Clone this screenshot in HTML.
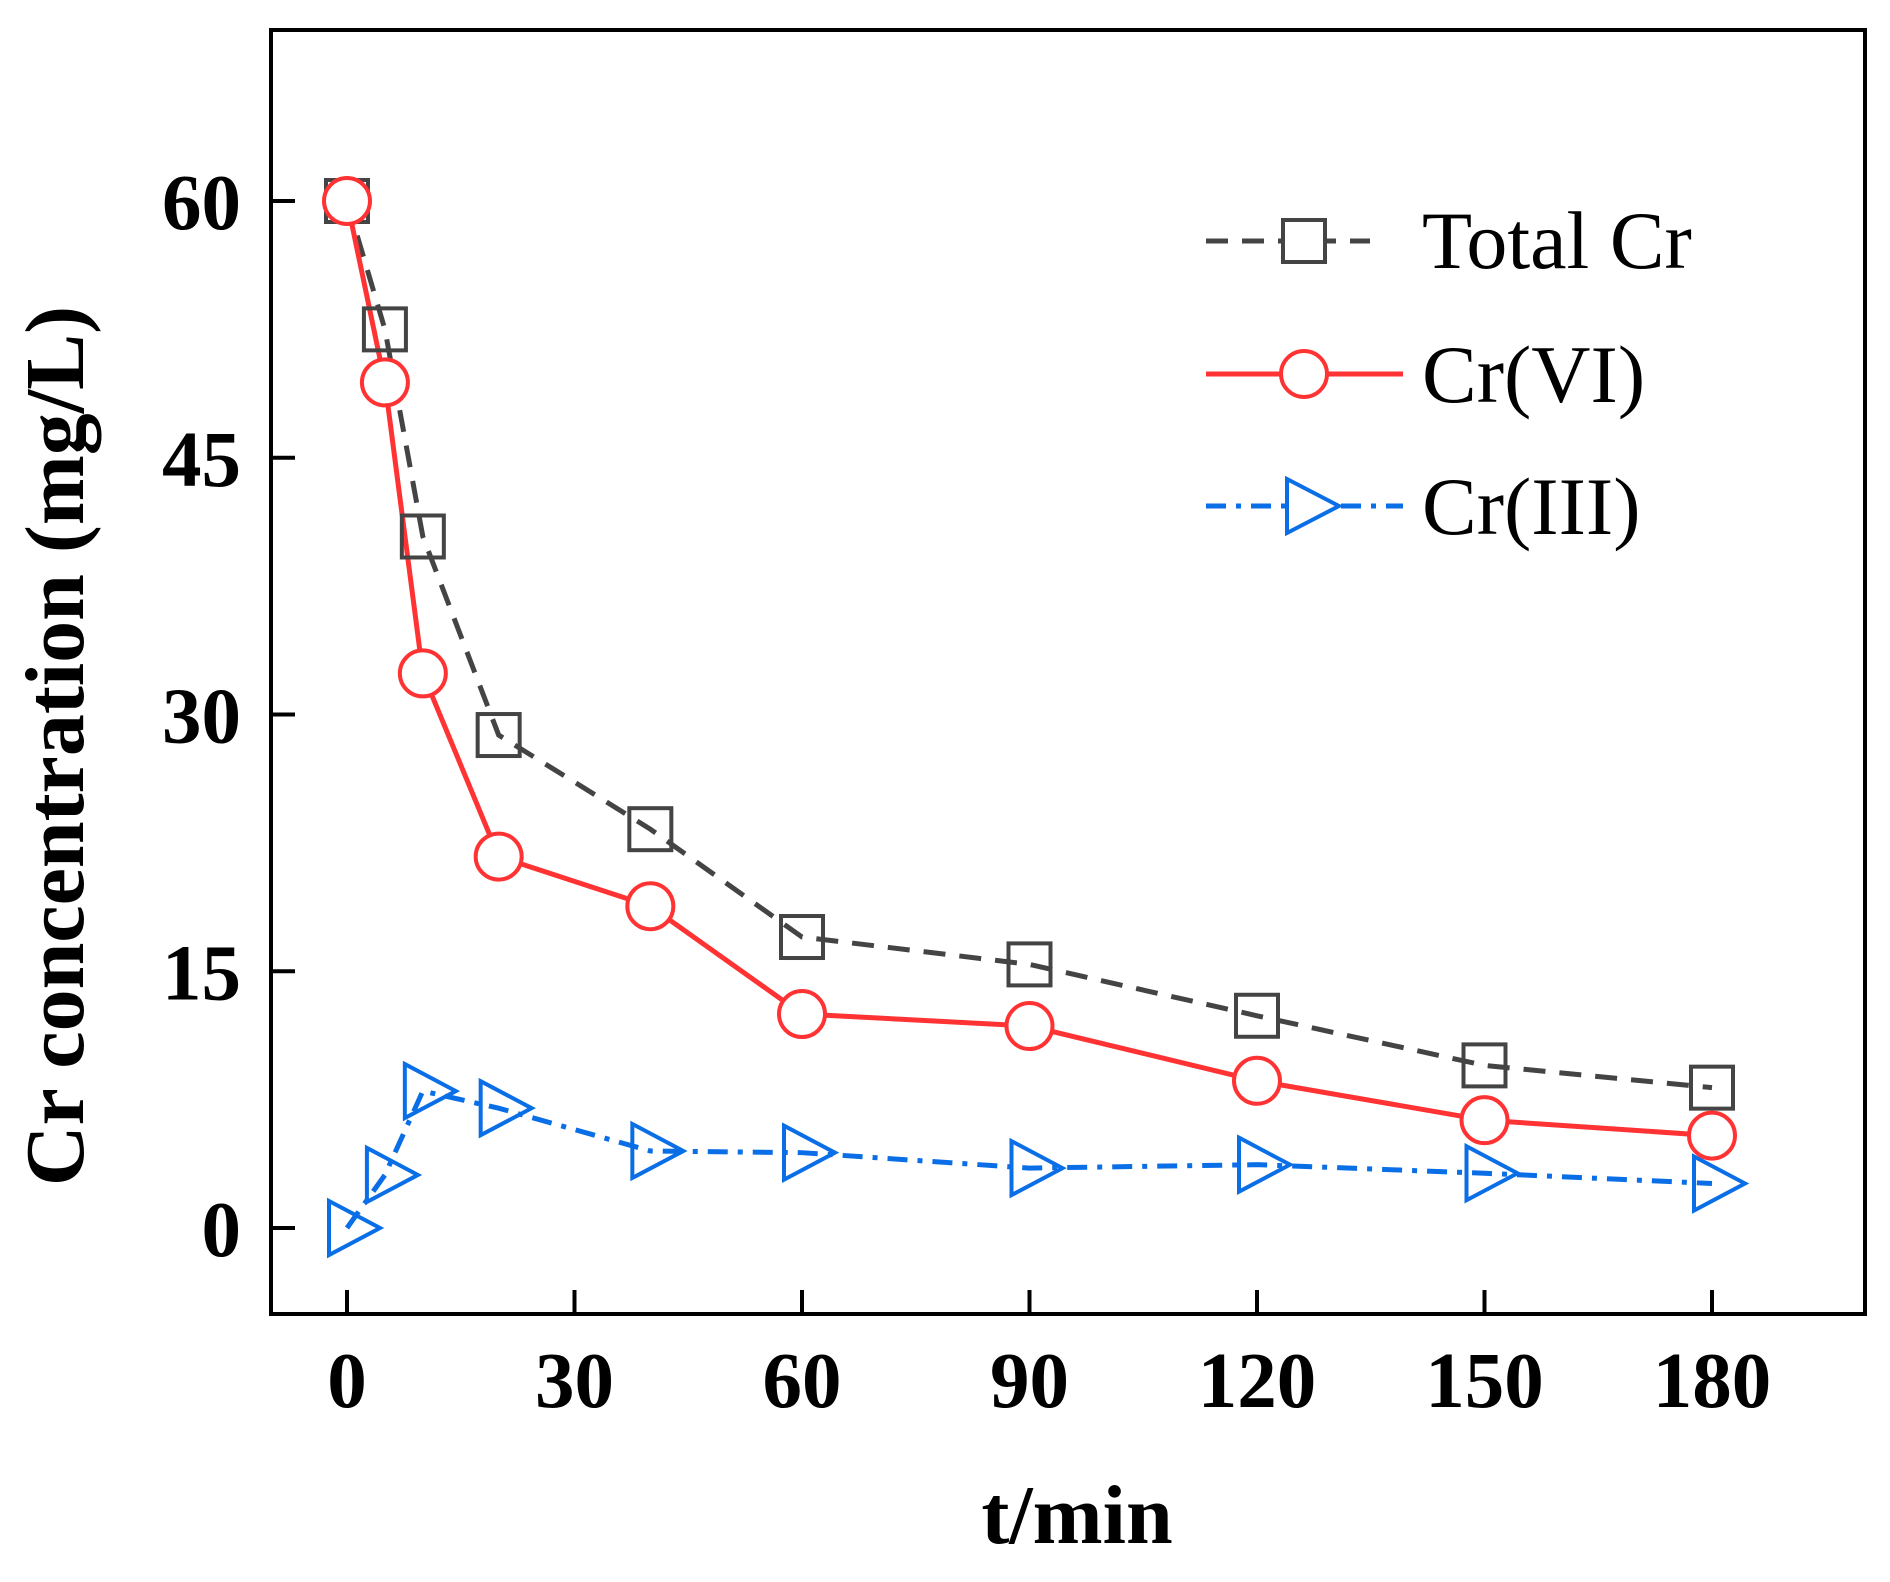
<!DOCTYPE html>
<html><head><meta charset="utf-8"><style>
html,body{margin:0;padding:0;background:#fff;}
svg text{font-family:"Liberation Serif",serif;}
</style></head><body>
<svg id="chart" width="1890" height="1577" viewBox="0 0 1890 1577" xmlns="http://www.w3.org/2000/svg">
<rect x="271" y="30" width="1594" height="1284" fill="none" stroke="#000" stroke-width="4"/>
<g id="axes"></g>
<g id="series"></g>
<text x="1077" y="1543" text-anchor="middle" font-size="84" font-weight="bold">t/min</text>
<text transform="translate(83,746) rotate(-90)" text-anchor="middle" font-size="84" font-weight="bold">Cr concentration (mg/L)</text>
<g>
 <g>
  <line x1="1206" y1="241" x2="1370" y2="241" stroke="#444" stroke-width="5" stroke-dasharray="22,14"/>
  <rect x="1283" y="220" width="42" height="42" fill="#fff" stroke="#444" stroke-width="4"/>
  <text x="1422" y="268" font-size="82">Total Cr</text>
 </g>
 <g>
  <line x1="1206" y1="374" x2="1403" y2="374" stroke="#f33" stroke-width="5"/>
  <circle cx="1304" cy="374" r="23" fill="#fff" stroke="#f33" stroke-width="4"/>
  <text x="1422" y="402" font-size="82">Cr(VI)</text>
 </g>
 <g>
  <line x1="1206" y1="506" x2="1403" y2="506" stroke="#0a6fe6" stroke-width="5" stroke-dasharray="20,10,5,10"/>
  <path d="M1287,479 L1339,506 L1287,533 Z" fill="#fff" stroke="#0a6fe6" stroke-width="4"/>
  <text x="1422" y="534" font-size="82">Cr(III)</text>
 </g>
</g>
</svg>
<script>
const times=[0,5,10,20,40,60,90,120,150,180];
const totalCr=[60,52.5,40.4,28.8,23.3,17.0,15.4,12.4,9.5,8.2];
const crVI=[60,49.4,32.4,21.7,18.8,12.5,11.8,8.6,6.3,5.4];
const crIII=[0,3.1,8.0,7.0,4.5,4.4,3.5,3.7,3.2,2.6];
const xTicks=[0,30,60,90,120,150,180];
const yTicks=[0,15,30,45,60];
const NS="http://www.w3.org/2000/svg";
function xs(v){return 347+(v-0)*(1712-347)/180;}
function ys(v){return 1228-(v)*(1228-201)/60;}
function mk(tag,attrs,parent){const e=document.createElementNS(NS,tag);for(const k in attrs)e.setAttribute(k,attrs[k]);parent.appendChild(e);return e;}
const axes=document.getElementById('axes');
xTicks.forEach(t=>{
 const l=mk('line',{x1:xs(t),x2:xs(t),y1:1314,y2:1290,stroke:'#000','stroke-width':4},axes);
 
 
 const tx=mk('text',{x:xs(t),y:1407,'text-anchor':'middle','font-size':79,'font-weight':'bold'},axes);
 tx.textContent=t;
 
 
});
yTicks.forEach(v=>{
 const l=mk('line',{x1:271,x2:295,y1:ys(v),y2:ys(v),stroke:'#000','stroke-width':4},axes);
 
 
 const tx=mk('text',{x:241,y:ys(v)+28,'text-anchor':'end','font-size':79,'font-weight':'bold'},axes);
 tx.textContent=v;
 
 
});
const g=document.getElementById('series');
function pts(arr){return arr.map((v,i)=>xs(times[i])+','+ys(v)).join(' ');}
const l1=mk('polyline',{points:pts(totalCr),fill:'none',stroke:'#444','stroke-width':5,'stroke-dasharray':'22,14'},g);


const l3=mk('polyline',{points:pts(crIII),fill:'none',stroke:'#0a6fe6','stroke-width':5,'stroke-dasharray':'20,10,5,10'},g);


const l2=mk('polyline',{points:pts(crVI),fill:'none',stroke:'#f33','stroke-width':5},g);


totalCr.forEach((v,i)=>{
 const r=mk('rect',{x:xs(times[i])-21,y:ys(v)-21,width:42,height:42,fill:'none',stroke:'#444','stroke-width':4},g);
 
 
});
crIII.forEach((v,i)=>{
 const x=xs(times[i]),y=ys(v);
 const p=mk('path',{d:`M${x-18},${y-27} L${x+33},${y} L${x-18},${y+27} Z`,fill:'none',stroke:'#0a6fe6','stroke-width':4},g);
 
 
});
crVI.forEach((v,i)=>{
 const c=mk('circle',{cx:xs(times[i]),cy:ys(v),r:23,fill:'#fff',stroke:'#f33','stroke-width':4},g);
 
 
});
</script>
</body></html>
